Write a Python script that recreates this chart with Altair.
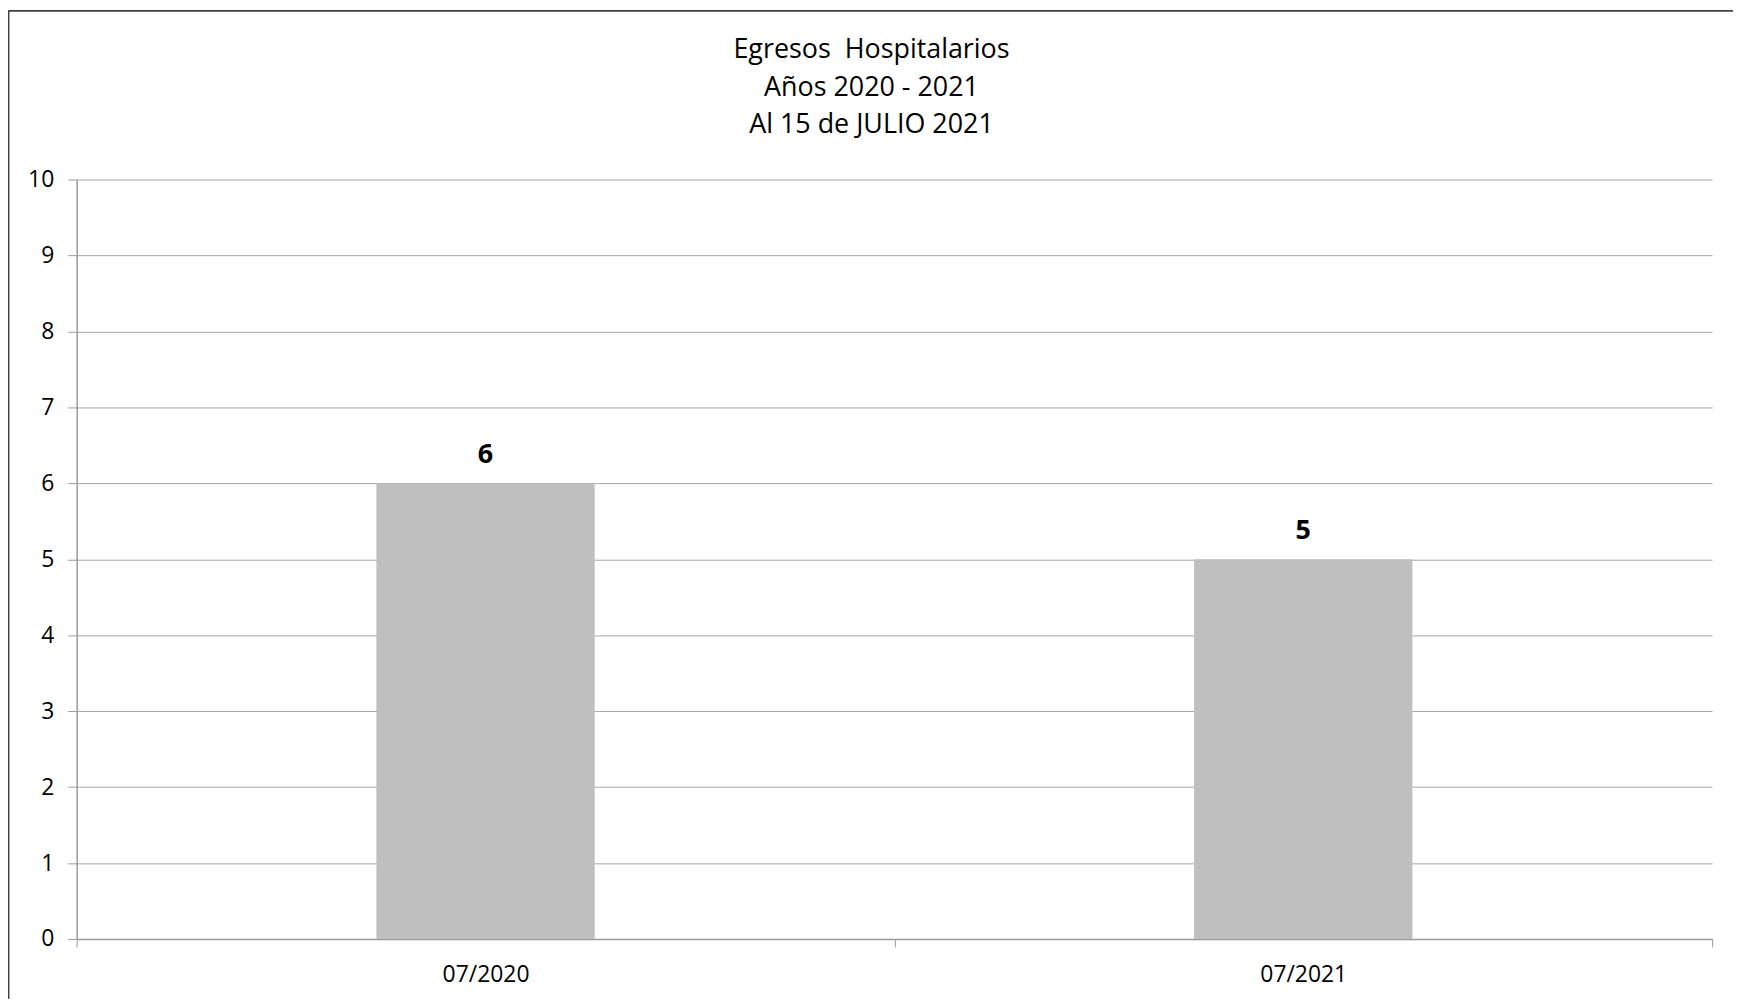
import altair as alt
import pandas as pd

categories = ["07/2020", "07/2021"]
values = [6, 5]
title_lines = ["Egresos\u00a0 Hospitalarios", "Años 2020 - 2021", "Al 15 de JULIO 2021"]

df = pd.DataFrame({"periodo": categories, "egresos": values})

FONT = "Open Sans"
W, H = 1643, 763

x_enc = alt.X(
    "periodo:N",
    sort=categories,
    title=None,
    scale=alt.Scale(paddingInner=0, paddingOuter=0),
    axis=alt.Axis(
        labelAngle=0, labelFont=FONT, labelFontSize=23, labelColor="#000000",
        labelPadding=17, tickBand="extent", tickSize=8, tickColor="#9a9a9a",
        domainColor="#9a9a9a", domainWidth=1.5, grid=False,
    ),
)
y_enc = alt.Y(
    "egresos:Q",
    title=None,
    scale=alt.Scale(domain=[0, 10], nice=False),
    axis=alt.Axis(
        values=list(range(0, 11)), format="d", labelFont=FONT, labelFontSize=23,
        labelColor="#000000", labelPadding=14, tickSize=9, tickColor="#9a9a9a",
        domainColor="#9a9a9a", domainWidth=1.5, grid=True, gridColor="#a6a6a6",
        gridWidth=1,
    ),
)

bars = alt.Chart(df).mark_bar(
    color="#bfbfbf", width=alt.RelativeBandSize(0.267)
).encode(x=x_enc, y=y_enc)

labels = alt.Chart(df).mark_text(
    font=FONT, fontSize=27, fontWeight="bold", color="#000000",
    baseline="alphabetic", dy=-20,
).encode(x=alt.X("periodo:N", sort=categories), y="egresos:Q", text="egresos:Q")

frame_left = alt.Chart(df).mark_rule(color="#404040", strokeWidth=1.5).encode(
    x=alt.value(-68.5), y=alt.value(-169.5), y2=alt.value(H + 60)
)
frame_top = alt.Chart(df).mark_rule(color="#404040", strokeWidth=1.5).encode(
    x=alt.value(-68.5), x2=alt.value(W + 30), y=alt.value(-169.5)
)

chart = alt.layer(bars, labels, frame_left, frame_top).properties(
    width=W,
    height=H,
    autosize=alt.AutoSizeParams(type="none"),
    padding={"left": 69, "top": 170, "right": 21, "bottom": 60},
    title=alt.TitleParams(
        text=title_lines, font=FONT, fontSize=27, fontWeight="normal",
        color="#000000", lineHeight=38, anchor="middle", dx=-23, offset=0,
        dy=130,
    ),
).configure(background="#ffffff", view=alt.ViewConfig(stroke=None))

chart.save("out.html", embed_options={"renderer": "svg", "actions": False})
